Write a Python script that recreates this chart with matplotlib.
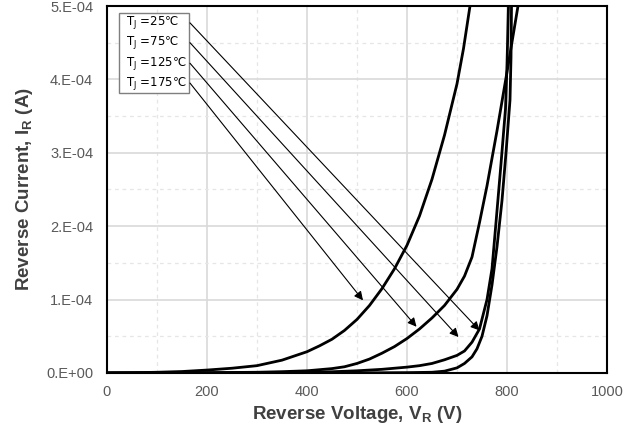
import numpy as np
import matplotlib
matplotlib.use("Agg")
import matplotlib.pyplot as plt
from matplotlib.patches import Rectangle

plt.rcParams["font.family"] = ["Liberation Sans", "DejaVu Sans"]

# reverse leakage curves, voltage in V, current in units of 1e-4 A
v_175 = [0, 50, 100, 150, 200, 250, 300, 350, 400, 425, 450, 475, 500, 525, 550,
         575, 600, 625, 650, 675, 700, 713, 726]
i_175 = [0, 0.004, 0.01, 0.02, 0.04, 0.065, 0.10, 0.175, 0.29, 0.37, 0.46, 0.58, 0.73,
         0.92, 1.15, 1.42, 1.74, 2.14, 2.64, 3.24, 3.94, 4.42, 5.0]

v_125 = [0, 100, 200, 300, 350, 400, 450, 475, 500, 525, 550, 575, 600, 625, 650,
         675, 700, 715, 730, 745, 760, 780, 800, 822]
i_125 = [0, 0.001, 0.004, 0.01, 0.018, 0.03, 0.06, 0.085, 0.13, 0.19, 0.27, 0.36, 0.47,
         0.6, 0.75, 0.92, 1.14, 1.32, 1.58, 2.05, 2.55, 3.3, 4.1, 5.0]

v_75 = [0, 200, 300, 400, 450, 500, 550, 600, 625, 650, 675, 700, 715, 730, 745,
        760, 770, 778, 788, 797, 800, 803]
i_75 = [0, 0.001, 0.003, 0.01, 0.017, 0.03, 0.05, 0.08, 0.10, 0.13, 0.18, 0.24, 0.3,
        0.42, 0.6, 1.0, 1.42, 2.05, 2.85, 3.6, 4.2, 5.0]

v_25 = [0, 300, 500, 600, 650, 675, 700, 715, 730, 740, 750, 760, 770, 780, 790,
        798, 806, 808, 809]
i_25 = [0, 0.001, 0.002, 0.005, 0.01, 0.025, 0.07, 0.13, 0.22, 0.33, 0.5, 0.78, 1.2,
        1.72, 2.35, 3.0, 3.72, 4.3, 5.0]

legend_labels = ["T$_\\mathregular{J}$ =25\u2103", "T$_\\mathregular{J}$ =75\u2103",
                 "T$_\\mathregular{J}$ =125\u2103", "T$_\\mathregular{J}$ =175\u2103"]
# arrow tails (at the label box) and tips (on the curves), same order as labels
arrow_tail_v = [166, 166, 166, 166]
arrow_tail_i = [4.77, 4.50, 4.22, 3.95]
arrow_tip_v = [745, 703, 619, 512]
arrow_tip_i = [0.58, 0.49, 0.63, 0.99]

x_ticks = [0, 200, 400, 600, 800, 1000]
y_ticks = [0, 1e-4, 2e-4, 3e-4, 4e-4, 5e-4]
y_tick_labels = ["0.E+00", "1.E-04", "2.E-04", "3.E-04", "4.E-04", "5.E-04"]

SCALE = 1e-4

fig = plt.figure(figsize=(6.38, 4.34), dpi=100)
ax = fig.add_axes([107 / 638, 1 - 373 / 434, 500 / 638, 367 / 434])

for v, i in [(v_175, i_175), (v_125, i_125), (v_75, i_75), (v_25, i_25)]:
    ax.plot(v, np.array(i) * SCALE, color="black", linewidth=2.0,
            solid_joinstyle="round", solid_capstyle="round", zorder=3)

ax.set_xlim(0, 1000)
ax.set_ylim(0, 5e-4)
ax.set_xticks(x_ticks)
ax.set_xticks(np.arange(100, 1000, 200), minor=True)
ax.set_yticks(y_ticks)
ax.set_yticklabels(y_tick_labels)
ax.set_yticks(np.arange(0.5e-4, 5e-4, 1e-4), minor=True)

ax.grid(which="major", color="#d9d9d9", linewidth=1.2, linestyle="-")
ax.grid(which="minor", color="#e6e6e6", linewidth=0.9, linestyle=(0, (3, 3)))
ax.set_axisbelow(True)

ax.tick_params(which="both", length=0, labelsize=10.5, labelcolor="#595959")
ax.tick_params(axis="x", pad=9)
ax.tick_params(axis="y", pad=10)

for sp in ax.spines.values():
    sp.set_linewidth(1.5)
    sp.set_color("black")

ax.set_xlabel("Reverse Voltage, V$_\\mathregular{R}$ (V)", fontsize=13.5,
              fontweight="bold", color="#404040", labelpad=3)
ax.set_ylabel("Reverse Current, I$_\\mathregular{R}$ (A)", fontsize=13.5,
              fontweight="bold", color="#404040", labelpad=8)

# label box with the temperature entries
ax.add_patch(Rectangle((25, 3.81e-4), 138, 1.09e-4, facecolor="white",
                       edgecolor="#7f7f7f", linewidth=1.0, zorder=4))
for lab, tv, ti in zip(legend_labels, arrow_tail_v, arrow_tail_i):
    ax.text(38, ti * SCALE, lab, fontsize=8.5, family="DejaVu Sans",
            color="black", va="center", ha="left", zorder=5)

for tv, ti, hv, hi in zip(arrow_tail_v, arrow_tail_i, arrow_tip_v, arrow_tip_i):
    ax.annotate("", xy=(hv, hi * SCALE), xytext=(tv, ti * SCALE),
                arrowprops=dict(arrowstyle="-|>", color="black", lw=0.8,
                                mutation_scale=13, shrinkA=0, shrinkB=0),
                zorder=4)

fig.savefig("out.png", dpi=100)
